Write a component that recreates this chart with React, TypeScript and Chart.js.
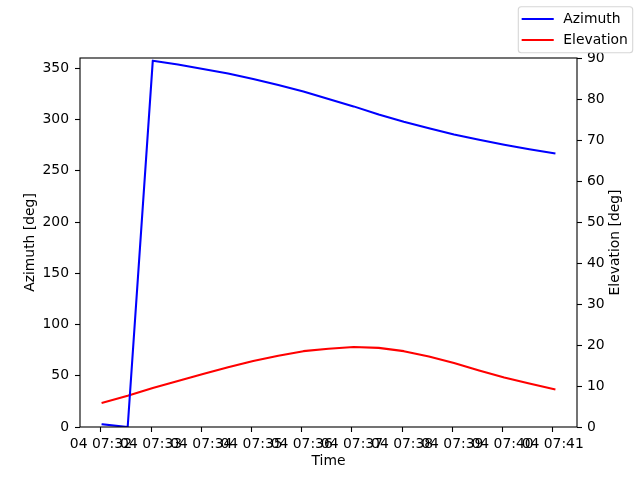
import React, { useEffect, useRef } from "react";
import { Chart, registerables } from "chart.js";

Chart.register(...registerables);

const DAY = "04";
const TIMES = [
  "07:32:02", "07:32:32", "07:33:02", "07:33:32", "07:34:02", "07:34:32",
  "07:35:02", "07:35:32", "07:36:02", "07:36:32", "07:37:02", "07:37:32",
  "07:38:02", "07:38:32", "07:39:02", "07:39:32", "07:40:02", "07:40:32",
  "07:41:02",
];
const AZIMUTH = [
  2.6, 0.0, 357.4, 353.7, 349.3, 344.9, 339.6, 333.7, 327.3, 320.0,
  312.8, 304.8, 297.8, 291.4, 285.3, 280.2, 275.3, 270.9, 267.0,
];
const ELEVATION = [
  5.9, 7.6, 9.5, 11.2, 12.9, 14.6, 16.1, 17.4, 18.5, 19.1,
  19.5, 19.3, 18.5, 17.2, 15.6, 13.8, 12.1, 10.6, 9.2,
];
const X_TICKS = [
  "07:32", "07:33", "07:34", "07:35", "07:36", "07:37", "07:38", "07:39", "07:40", "07:41",
];
const AZ_TICKS = [0, 50, 100, 150, 200, 250, 300, 350];
const EL_TICKS = [0, 10, 20, 30, 40, 50, 60, 70, 80, 90];
const AZ_RANGE = [0, 360];
const EL_RANGE = [0, 90];
const SERIES_NAMES = ["Azimuth", "Elevation"];
const SERIES_COLORS = ["#0000ff", "#ff0000"];

const FONT_FAMILY = "'DejaVu Sans', sans-serif";
const FONT_SIZE = 13.9;

function toMinutes(t: string): number {
  const p = t.split(":").map(Number);
  return p[0] * 60 + p[1] + (p[2] || 0) / 60;
}

const X_VALUES = TIMES.map(toMinutes);
const X_MIN_DATA = Math.min(...X_VALUES);
const X_MAX_DATA = Math.max(...X_VALUES);
const X_MARGIN = (X_MAX_DATA - X_MIN_DATA) * 0.05;

const decorPlugin = {
  id: "decor",
  afterDatasetsDraw(chart: any) {
    const { ctx, chartArea } = chart;
    ctx.save();
    ctx.strokeStyle = "#000";
    ctx.lineWidth = 1.1;
    ctx.strokeRect(chartArea.left, chartArea.top, chartArea.right - chartArea.left, chartArea.bottom - chartArea.top);
    ctx.restore();
  },
  afterDraw(chart: any) {
    const { ctx, chartArea, width } = chart;
    ctx.save();
    // right axis title
    ctx.font = `${FONT_SIZE}px ${FONT_FAMILY}`;
    ctx.fillStyle = "#000";
    ctx.textAlign = "center";
    ctx.textBaseline = "middle";
    ctx.translate(width - 25, (chartArea.top + chartArea.bottom) / 2);
    ctx.rotate(-Math.PI / 2);
    ctx.fillText("Elevation [deg]", 0, 0);
    ctx.restore();

    // legend
    ctx.save();
    const bx = width - 121.7;
    const by = 6.7;
    const bw = 114.4;
    const bh = 46;
    const r = 3;
    ctx.beginPath();
    ctx.moveTo(bx + r, by);
    ctx.lineTo(bx + bw - r, by);
    ctx.arcTo(bx + bw, by, bx + bw, by + r, r);
    ctx.lineTo(bx + bw, by + bh - r);
    ctx.arcTo(bx + bw, by + bh, bx + bw - r, by + bh, r);
    ctx.lineTo(bx + r, by + bh);
    ctx.arcTo(bx, by + bh, bx, by + bh - r, r);
    ctx.lineTo(bx, by + r);
    ctx.arcTo(bx, by, bx + r, by, r);
    ctx.closePath();
    ctx.fillStyle = "rgba(255,255,255,0.8)";
    ctx.fill();
    ctx.strokeStyle = "rgba(204,204,204,0.8)";
    ctx.lineWidth = 1.1;
    ctx.stroke();
    const rows = [19, 40];
    SERIES_NAMES.forEach((name, i) => {
      const y = rows[i];
      ctx.beginPath();
      ctx.moveTo(bx + 4.4, y);
      ctx.lineTo(bx + 34.4, y);
      ctx.strokeStyle = SERIES_COLORS[i];
      ctx.lineWidth = 2.08;
      ctx.lineCap = "square";
      ctx.stroke();
      ctx.font = `${FONT_SIZE}px ${FONT_FAMILY}`;
      ctx.fillStyle = "#000";
      ctx.textAlign = "left";
      ctx.textBaseline = "middle";
      ctx.fillText(name, bx + 45, y);
    });
    ctx.restore();
  },
};

export default function App() {
  const canvasRef = useRef<HTMLCanvasElement | null>(null);

  useEffect(() => {
    if (!canvasRef.current) return;
    const font = { family: FONT_FAMILY, size: FONT_SIZE };
    const tickGrid = {
      display: true,
      drawOnChartArea: false,
      drawTicks: true,
      tickLength: 5,
      tickColor: "#000",
      tickWidth: 1.1,
    };
    const chart = new Chart(canvasRef.current, {
      type: "line",
      data: {
        datasets: [
          {
            label: SERIES_NAMES[0],
            data: X_VALUES.map((x, i) => ({ x, y: AZIMUTH[i] })),
            borderColor: SERIES_COLORS[0],
            backgroundColor: SERIES_COLORS[0],
            borderWidth: 2.08,
            pointRadius: 0,
            tension: 0,
            borderCapStyle: "square",
            borderJoinStyle: "round",
            yAxisID: "y",
          },
          {
            label: SERIES_NAMES[1],
            data: X_VALUES.map((x, i) => ({ x, y: ELEVATION[i] })),
            borderColor: SERIES_COLORS[1],
            backgroundColor: SERIES_COLORS[1],
            borderWidth: 2.08,
            pointRadius: 0,
            tension: 0,
            borderCapStyle: "square",
            borderJoinStyle: "round",
            yAxisID: "y1",
          },
        ],
      },
      options: {
        animation: false,
        responsive: false,
        devicePixelRatio: 1,
        layout: { padding: { top: 58, left: 0, right: 0, bottom: 0 } },
        plugins: {
          legend: { display: false },
          tooltip: { enabled: false },
          title: { display: false },
        },
        scales: {
          x: {
            type: "linear",
            min: X_MIN_DATA - X_MARGIN,
            max: X_MAX_DATA + X_MARGIN,
            afterBuildTicks: (scale: any) => {
              scale.ticks = X_TICKS.map((t) => ({ value: toMinutes(t) }));
            },
            afterFit: (scale: any) => {
              scale.height = 53;
            },
            ticks: {
              autoSkip: false,
              maxRotation: 0,
              minRotation: 0,
              color: "#000",
              font,
              padding: 4,
              callback: (_v: any, i: number) => `${DAY} ${X_TICKS[i]}`,
            },
            grid: tickGrid,
            border: { display: false },
            title: {
              display: true,
              text: "Time",
              color: "#000",
              font,
              padding: { top: 0, bottom: 9.8 },
            },
          },
          y: {
            type: "linear",
            position: "left",
            min: AZ_RANGE[0],
            max: AZ_RANGE[1],
            afterBuildTicks: (scale: any) => {
              scale.ticks = AZ_TICKS.map((v) => ({ value: v }));
            },
            afterFit: (scale: any) => {
              scale.width = 80;
            },
            ticks: { color: "#000", font, padding: 6 },
            grid: tickGrid,
            border: { display: false },
            title: {
              display: true,
              text: "Azimuth [deg]",
              color: "#000",
              font,
              padding: { top: 22, bottom: 0 },
            },
          },
          y1: {
            type: "linear",
            position: "right",
            min: EL_RANGE[0],
            max: EL_RANGE[1],
            afterBuildTicks: (scale: any) => {
              scale.ticks = EL_TICKS.map((v) => ({ value: v }));
            },
            afterFit: (scale: any) => {
              scale.width = 63;
            },
            ticks: { color: "#000", font, padding: 5 },
            grid: tickGrid,
            border: { display: false },
            title: { display: false },
          },
        },
      } as any,
      plugins: [decorPlugin],
    });
    return () => chart.destroy();
  }, []);

  return (
    <div style={{ position: "fixed", left: 0, top: 0, width: 640, height: 480, background: "#fff" }}>
      <canvas ref={canvasRef} width={640} height={480} />
    </div>
  );
}
